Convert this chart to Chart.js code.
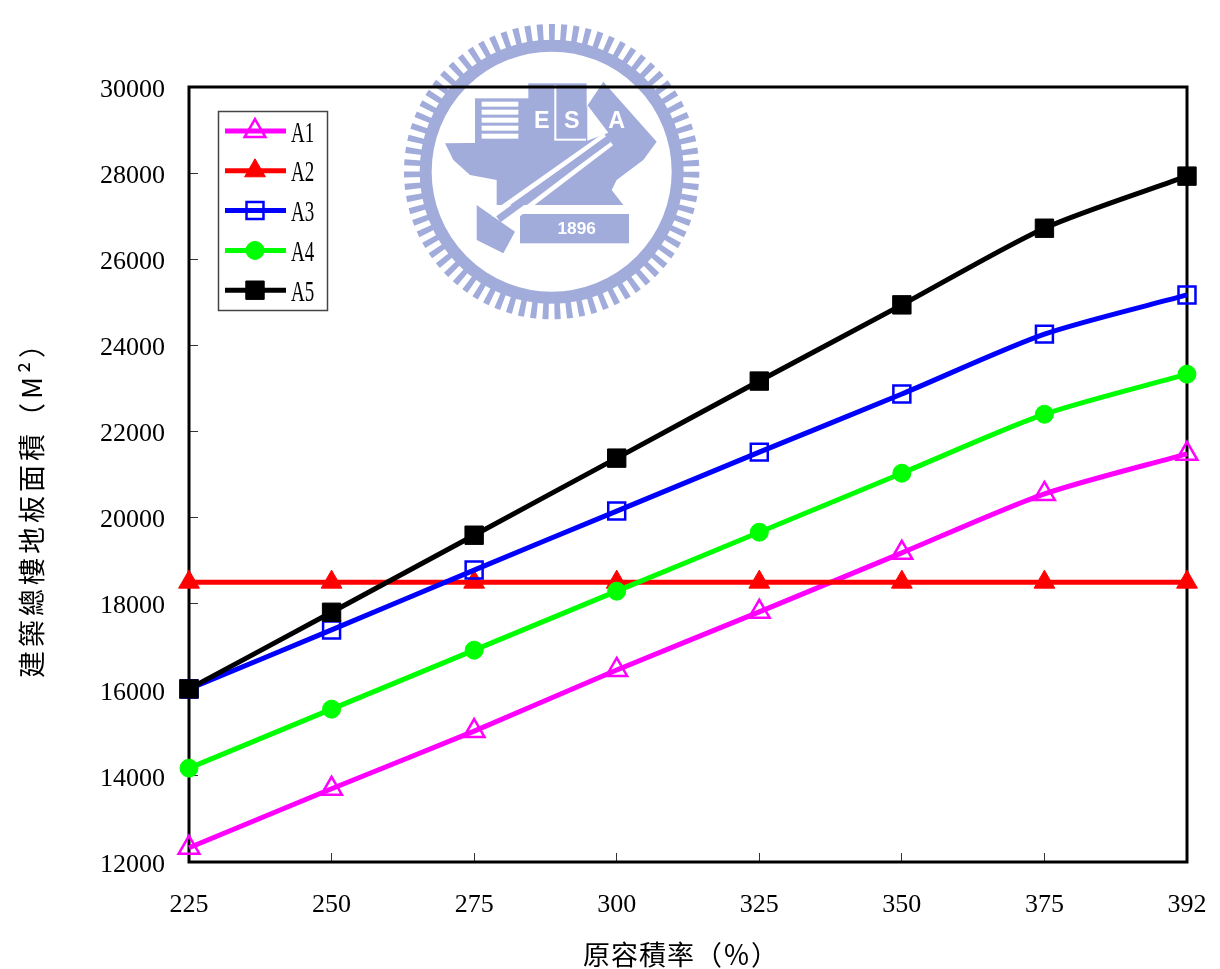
<!DOCTYPE html>
<html lang="zh-TW">
<head>
<meta charset="UTF-8">
<title>建築總樓地板面積</title>
<script src="https://cdn.jsdelivr.net/npm/chart.js@4"></script>
<style>
    body { margin: 0; background: #fff; }
    canvas { display: block; }
</style>
</head>
<body>
<canvas id="chart" width="1220" height="969"></canvas>
<script>
const categories = ['225', '250', '275', '300', '325', '350', '375', '392'];
const a1 = [12330, 13700, 15040, 16460, 17810, 19180, 20550, 21480];
const a2 = [18500, 18500, 18500, 18500, 18500, 18500, 18500, 18500];
const a3 = [16020, 17390, 18780, 20150, 21520, 22870, 24260, 25170];
const a4 = [14180, 15550, 16920, 18290, 19660, 21030, 22400, 23330];
const a5 = [16020, 17800, 19590, 21380, 23170, 24940, 26720, 27930];
const xTitle = '原容積率（％）';
const yTitle = '建築總樓地板面積（M²）';

const digitFont = { family: '"Liberation Serif", serif', size: 26 };
const cjkFont = { family: '"Noto Sans CJK TC", sans-serif', size: 27 };
const seal = '#a2acdb';

function series(label, data, color, pointStyle, radius, filled, order) {
    return {
        label, data, order, pointStyle,
        borderColor: color,
        borderWidth: 5,
        tension: 0.25,
        clip: false,
        pointRadius: radius,
        pointBorderColor: color,
        pointBorderWidth: filled ? 1 : 2.5,
        pointBackgroundColor: filled ? color : 'rgba(0,0,0,0)'
    };
}

function poly(ctx, pts) {
    ctx.beginPath();
    pts.forEach(([x, y], i) => i ? ctx.lineTo(x, y) : ctx.moveTo(x, y));
    ctx.closePath();
    ctx.fill();
}

// 校徽浮水印，座標取自放大圖 (390,10 起，3 倍)
function drawSeal(ctx) {
    ctx.save();
    ctx.translate(390, 10);
    ctx.scale(1 / 3, 1 / 3);
    ctx.fillStyle = seal;
    ctx.strokeStyle = seal;

    const cx = 485, cy = 485;
    ctx.lineWidth = 36;
    ctx.beginPath();
    ctx.arc(cx, cy, 378, 0, Math.PI * 2);
    ctx.stroke();
    ctx.lineWidth = 50;
    ctx.setLineDash([2 * Math.PI * 418 / 150, 2 * Math.PI * 418 / 150]);
    ctx.beginPath();
    ctx.arc(cx, cy, 418, 0, Math.PI * 2);
    ctx.stroke();
    ctx.setLineDash([]);

    ctx.fillRect(255, 265, 165, 135);
    ctx.fillRect(415, 220, 175, 180);
    poly(ctx, [[640, 215], [800, 395], [760, 450], [680, 510], [665, 540], [700, 585], [320, 585], [320, 510],
        [240, 495], [190, 450], [165, 400], [560, 395], [590, 290]]);
    poly(ctx, [[260, 585], [375, 665], [340, 730], [260, 690]]);
    ctx.fillRect(390, 612, 327, 88);

    ctx.fillStyle = '#fff';
    for (let y = 275; y < 395; y += 24) ctx.fillRect(275, y, 110, 15);
    poly(ctx, [[592, 285], [655, 368], [592, 392]]);
    ctx.fillRect(493, 225, 6, 165);
    ctx.fillRect(493, 386, 95, 6);
    ctx.strokeStyle = '#fff';
    ctx.lineWidth = 14;
    ctx.beginPath();
    ctx.moveTo(305, 615);
    ctx.lineTo(645, 375);
    ctx.moveTo(350, 640);
    ctx.lineTo(665, 400);
    ctx.stroke();
    ctx.strokeStyle = seal;
    ctx.lineWidth = 22;
    ctx.beginPath();
    ctx.moveTo(325, 628);
    ctx.lineTo(655, 388);
    ctx.stroke();

    ctx.fillStyle = '#fff';
    ctx.textAlign = 'center';
    ctx.textBaseline = 'middle';
    ctx.font = 'bold 70px "Liberation Sans", sans-serif';
    ctx.fillText('E', 455, 335);
    ctx.fillText('S', 545, 335);
    ctx.fillText('A', 680, 335);
    ctx.font = 'bold 52px "Liberation Sans", sans-serif';
    ctx.fillText('1896', 560, 658);
    ctx.restore();
}

const chartFrame = {
    id: 'chartFrame',
    beforeDraw(chart) {
        drawSeal(chart.ctx);
        // 座標軸標題字距與位置
        [[chart.scales.x, -7, 2, '1px'], [chart.scales.y, 1, 28, '4px']].forEach(([scale, dx, dy, spacing]) => {
            if (scale.titleWrapped) return;
            scale.titleWrapped = true;
            const drawTitle = scale.drawTitle;
            scale.drawTitle = function () {
                const ctx = this.ctx;
                ctx.save();
                ctx.translate(dx, dy);
                ctx.letterSpacing = spacing;
                drawTitle.call(this);
                ctx.restore();
            };
        });
    },
    beforeDatasetsDraw(chart) {
        const { ctx, chartArea: a } = chart;
        ctx.save();
        ctx.strokeStyle = '#000';
        ctx.lineWidth = 3;
        ctx.strokeRect(a.left, a.top, a.right - a.left, a.bottom - a.top);
        ctx.restore();
    },
    afterDraw(chart) {
        // 圖例：線段穿過標記
        const ctx = chart.ctx;
        ctx.save();
        ctx.fillStyle = '#fff';
        ctx.strokeStyle = '#444';
        ctx.lineWidth = 1.5;
        ctx.fillRect(218.5, 111.5, 109, 199);
        ctx.strokeRect(218.5, 111.5, 109, 199);
        chart.data.datasets.forEach((ds, i) => {
            const y = 131 + i * 39.8;
            ctx.strokeStyle = ds.borderColor;
            ctx.lineWidth = 5;
            ctx.beginPath();
            ctx.moveTo(225, y);
            ctx.lineTo(286, y);
            ctx.stroke();
            ctx.strokeStyle = ds.pointBorderColor;
            ctx.fillStyle = ds.pointBackgroundColor;
            ctx.lineWidth = ds.pointBorderWidth;
            Chart.helpers.drawPoint(ctx, { pointStyle: ds.pointStyle, radius: ds.pointRadius, rotation: 0, borderWidth: ds.pointBorderWidth }, 255, y);
            ctx.save();
            ctx.translate(291, y + 3);
            ctx.scale(0.76, 1.15);
            ctx.fillStyle = '#000';
            ctx.font = '25px "Liberation Serif", serif';
            ctx.textAlign = 'left';
            ctx.textBaseline = 'middle';
            ctx.fillText(ds.label, 0, 0);
            ctx.restore();
        });
        ctx.restore();
    }
};

new Chart(document.getElementById('chart'), {
    type: 'line',
    data: {
        labels: categories,
        datasets: [
            series('A1', a1, '#ff00ff', 'triangle', 12, false, 5),
            series('A2', a2, '#ff0000', 'triangle', 12, true, 4),
            series('A3', a3, '#0000ff', 'rect', 12, false, 3),
            series('A4', a4, '#00ff00', 'circle', 9, true, 2),
            series('A5', a5, '#000000', 'rect', 13, true, 1)
        ]
    },
    plugins: [chartFrame],
    options: {
        responsive: false,
        animation: false,
        layout: { padding: { top: 87, right: 33, left: 0, bottom: 0 } },
        plugins: { legend: { display: false }, tooltip: { enabled: false } },
        scales: {
            x: {
                offset: false,
                grid: { drawOnChartArea: false, tickLength: -9, tickColor: '#333', tickWidth: 1 },
                border: { display: false },
                ticks: { color: '#000', font: digitFont, padding: 37, maxRotation: 0, autoSkip: false },
                title: { display: true, text: xTitle, color: '#000', font: cjkFont, padding: 0 },
                afterFit(scale) {
                    scale.height = 107;
                    scale.paddingLeft = 0;
                    scale.paddingRight = 0;
                }
            },
            y: {
                min: 12000,
                max: 30000,
                grid: { drawOnChartArea: false, tickLength: -9, tickColor: '#333', tickWidth: 1 },
                border: { display: false },
                ticks: { stepSize: 2000, color: '#000', font: digitFont, padding: 33, labelOffset: 3, callback: v => String(v) },
                title: { display: true, text: yTitle, color: '#000', font: cjkFont, padding: 15 },
                afterFit(scale) { scale.width = 189; }
            }
        }
    }
});
</script>
</body>
</html>
